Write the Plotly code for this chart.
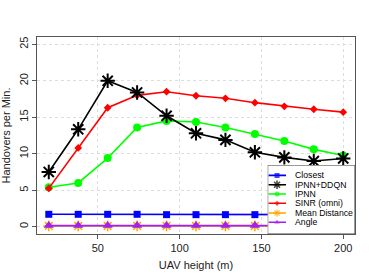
import plotly.graph_objects as go

# ---------------- data ----------------
heights = [20, 38, 56, 74, 92, 110, 128, 146, 164, 182, 200]
closest = [1.7, 1.7, 1.7, 1.7, 1.65, 1.65, 1.65, 1.65, 1.65, 1.65, 1.65]
ipnn_ddqn = [7.5, 13.35, 20.0, 18.4, 15.2, 12.8, 11.9, 10.2, 9.5, 9.0, 9.35]
ipnn = [5.4, 6.0, 9.4, 13.6, 14.5, 14.35, 13.6, 12.7, 11.75, 10.6, 9.75]
sinr = [5.25, 10.8, 16.3, 18.0, 18.5, 17.95, 17.6, 17.0, 16.5, 16.1, 15.7]
mean_dist = [0.1, 0.1, 0.1, 0.1, 0.1, 0.1, 0.1, 0.1, 0.1, 0.1, 0.1]
angle = [0.15, 0.15, 0.15, 0.15, 0.15, 0.15, 0.15, 0.15, 0.15, 0.15, 0.15]

names = ["Closest", "IPNN+DDQN", "IPNN", "SINR (omni)", "Mean Distance", "Angle"]
series = [closest, ipnn_ddqn, ipnn, sinr, mean_dist, angle]
x_ticks = [50, 100, 150, 200]
y_ticks = [0, 5, 10, 15, 20, 25]

# ---------------- styles ----------------
colors = ["#0000FF", "#000000", "#00FF00", "#FF0000", "#FFA500", "#A020F0"]
symbols = ["square", "asterisk-open", "circle", "diamond", "asterisk-open", "triangle-up"]
sizes = [7, 12, 8, 6, 9, 9]
mlw = [0, 2, 0, 0, 1.5, 0]
draw_order = [0, 4, 5, 2, 3, 1]

FONT = "Liberation Sans, Arial, sans-serif"

fig = go.Figure()
for i in draw_order:
    fig.add_trace(go.Scatter(
        x=heights, y=series[i], name=names[i], mode="lines+markers",
        line=dict(color=colors[i], width=1.6),
        marker=dict(symbol=symbols[i], size=sizes[i], color=colors[i],
                    line=dict(color=colors[i], width=mlw[i])),
        showlegend=False, xaxis="x", yaxis="y"))

# ------------- custom compact legend (R style) -------------
fig.add_trace(go.Scatter(
    x=[0, 1, 1, 0, 0], y=[0, 0, 1, 1, 0], mode="lines", fill="toself",
    fillcolor="white", line=dict(color="white", width=0),
    showlegend=False, hoverinfo="skip", xaxis="x2", yaxis="y2"))

row_y = [0.85, 0.714, 0.58, 0.445, 0.304, 0.17]
leg_sizes = [5, 7, 5, 4, 6, 5]
for i in range(len(names)):
    fig.add_trace(go.Scatter(
        x=[0.01, 0.107, 0.21], y=[row_y[i]] * 3, mode="lines+markers",
        line=dict(color=colors[i], width=1.6),
        marker=dict(symbol=symbols[i], size=[0, leg_sizes[i], 0], color=colors[i],
                    line=dict(color=colors[i], width=mlw[i] * 0.8)),
        showlegend=False, hoverinfo="skip", xaxis="x2", yaxis="y2"))
    fig.add_annotation(x=0.29, y=row_y[i], xref="x2", yref="y2", text=names[i],
                       showarrow=False, xanchor="left", yanchor="middle",
                       font=dict(family=FONT, size=8.7, color="#000"))

fig.add_shape(type="rect", xref="x2", yref="y2", x0=0, x1=1, y0=0, y1=1,
              fillcolor="rgba(0,0,0,0)", line=dict(color="#444", width=1), layer="above")

axis_common = dict(showline=True, mirror=True, linecolor="#555", linewidth=1,
                   ticks="outside", ticklen=4, tickcolor="#555",
                   showgrid=True, gridcolor="#dddddd", griddash="dot", gridwidth=1,
                   zeroline=False, automargin=False,
                   tickfont=dict(family=FONT, size=11, color="#222"))

fig.update_layout(
    width=374, height=280,
    margin=dict(l=37, r=19, t=37, b=46),
    paper_bgcolor="white", plot_bgcolor="white",
    font=dict(family=FONT, size=11, color="#222"),
    xaxis=dict(range=[12.8, 207.2], tickvals=x_ticks, ticktext=[str(v) for v in x_ticks],
               title=dict(text="UAV height (m)", font=dict(family=FONT, size=11), standoff=8),
               **axis_common),
    yaxis=dict(range=[-1, 26], tickvals=y_ticks, ticktext=[str(v) for v in y_ticks],
               tickangle=-90,
               title=dict(text="Handovers per Min.", font=dict(family=FONT, size=11), standoff=6),
               **axis_common),
    xaxis2=dict(domain=[0.7255, 1], range=[0, 1], visible=False, fixedrange=True, anchor="y2"),
    yaxis2=dict(domain=[0, 0.35], range=[0, 1], visible=False, fixedrange=True, anchor="x2"),
)

fig.write_html("out.html", config={"displayModeBar": False},
               post_script="document.body.style.margin='0';document.body.style.overflow='hidden';")
